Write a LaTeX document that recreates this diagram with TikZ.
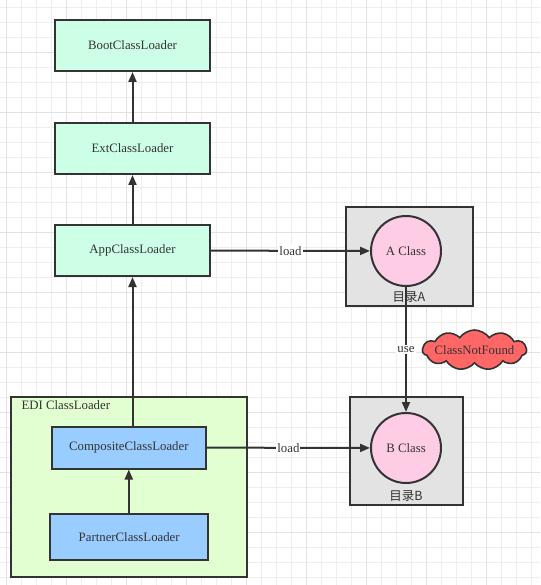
\documentclass[tikz,border=0pt]{standalone}
\usepackage{fontspec}
\setmainfont{Liberation Serif}
\newfontfamily\cjk{Noto Sans CJK SC}
\usetikzlibrary{arrows.meta,shapes.symbols}
\definecolor{edge}{HTML}{333333}
\definecolor{mint}{HTML}{CCFFE6}
\definecolor{edifill}{HTML}{E2FFD2}
\definecolor{bluefill}{HTML}{99CCFF}
\definecolor{pinkfill}{HTML}{FFCCE6}
\definecolor{dirfill}{HTML}{E3E3E3}
\definecolor{redfill}{HTML}{FF6666}
\definecolor{gridlight}{HTML}{EEEEEE}
\definecolor{griddark}{HTML}{E2E2E2}
\tikzset{
  every node/.style={font=\fontsize{12.8}{15}\selectfont, text=edge},
  box/.style={draw=edge, line width=2pt, rectangle, inner sep=0pt},
  loader/.style={box, fill=mint, minimum width=155pt, minimum height=51pt},
  bluebox/.style={box, fill=bluefill},
  dirbox/.style={box, fill=dirfill},
  classcirc/.style={draw=edge, line width=2pt, circle, fill=pinkfill, minimum size=70pt, inner sep=0pt},
  arr/.style={draw=edge, line width=2pt, -{Triangle[length=10pt,width=8pt]}},
  elabel/.style={fill=white, inner sep=1pt},
}
\begin{document}
\begin{tikzpicture}[x=1pt,y=-1pt]
\useasboundingbox (0,0) rectangle (540,585);
\fill[white] (0,0) rectangle (540,585);
% grid
\foreach \x in {6.3,21.3,...,540} \draw[gridlight, line width=1pt] (\x,0) -- (\x,585);
\foreach \y in {7.3,22.3,...,585} \draw[gridlight, line width=1pt] (0,\y) -- (540,\y);
\foreach \x in {6.3,66.3,...,540} \draw[griddark, line width=1pt] (\x,0) -- (\x,585);
\foreach \y in {52.3,112.3,...,585} \draw[griddark, line width=1pt] (0,\y) -- (540,\y);

% EDI container
\node[box, fill=edifill, minimum width=236pt, minimum height=180pt] (edi) at (128.7,486.7) {};
\node[anchor=west] (edilabel) at (18,405) {EDI ClassLoader};

% loaders
\node[loader] (boot) at (132.5,45.5) {BootClassLoader};
\node[loader] (ext) at (132.5,148.5) {ExtClassLoader};
\node[loader] (app) at (132.5,250.5) {AppClassLoader};
\node[bluebox, minimum width=154pt, minimum height=42pt] (comp) at (128.8,447.5) {CompositeClassLoader};
\node[bluebox, minimum width=158pt, minimum height=46pt] (partner) at (129.2,537) {PartnerClassLoader};

% directories
\node[dirbox, minimum width=127pt, minimum height=99pt] (dirA) at (409.5,256.5) {};
\node[dirbox, minimum width=113pt, minimum height=108pt] (dirB) at (406.5,451) {};
\node[classcirc] (aclass) at (406,251) {A Class};
\node[classcirc] (bclass) at (406,448) {B Class};

% edges
\draw[arr] (ext) -- (boot);
\draw[arr] (app) -- (ext);
\draw[arr] (comp.north -| app.south) -- (app.south);
\draw[arr] (partner.north -| comp.south) -- (comp.south);
\draw[arr] (app) -- node[elabel, pos=0.5] (loadA) {load} (aclass);
\draw[arr] (comp) -- node[elabel, pos=0.5] (loadB) {load} (bclass);
\draw[arr] (aclass) -- node[elabel, pos=0.5] (use) {use} (bclass);

% directory labels
\node[font=\cjk\fontsize{12.5}{14}\selectfont] (labA) at (409,297) {目录A};
\node[font=\cjk\fontsize{12.5}{14}\selectfont] (labB) at (406,496) {目录B};

% cloud
\node[cloud, cloud puffs=11, cloud puff arc=110, cloud ignores aspect, draw=edge, line width=1.6pt, fill=redfill, inner sep=-30pt, minimum width=104pt, minimum height=40pt] (cnf) at (474.5,350) {ClassNotFound};
\end{tikzpicture}
\end{document}
